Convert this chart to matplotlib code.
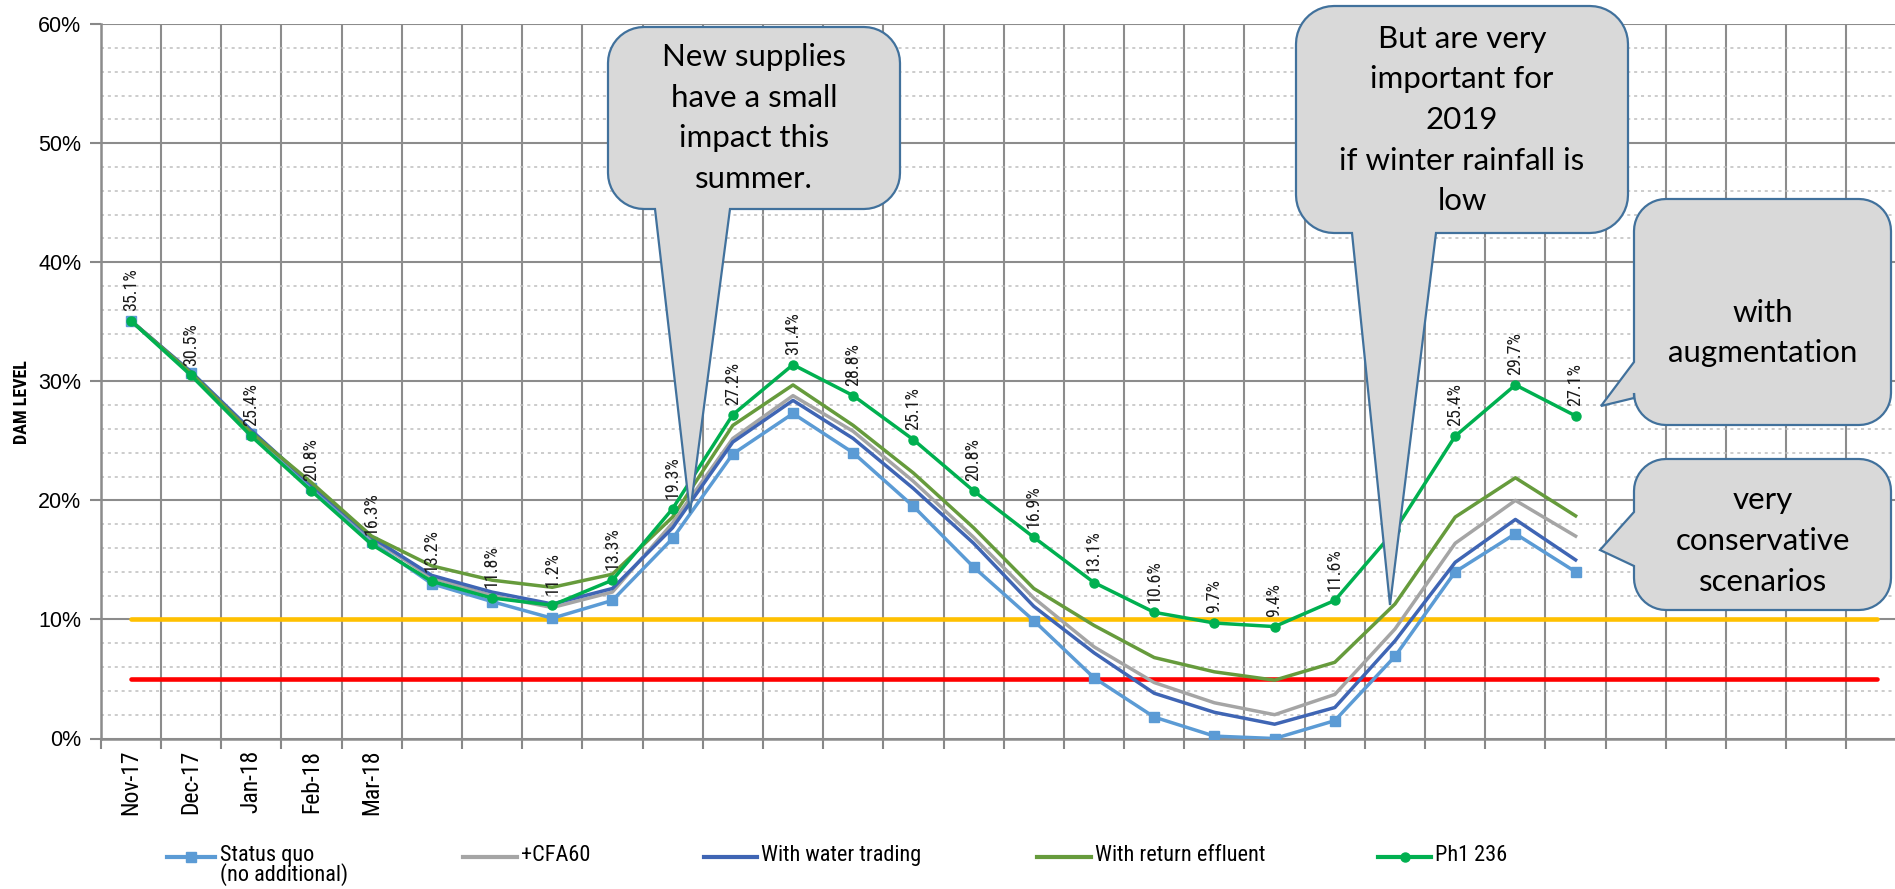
import matplotlib.pyplot as plt
import numpy as np
from matplotlib.patches import Polygon
from matplotlib.lines import Line2D

# categories (30 months, only the first five have visible labels)
months = ['Nov-17', 'Dec-17', 'Jan-18', 'Feb-18', 'Mar-18', 'Apr-18', 'May-18', 'Jun-18',
          'Jul-18', 'Aug-18', 'Sep-18', 'Oct-18', 'Nov-18', 'Dec-18', 'Jan-19', 'Feb-19',
          'Mar-19', 'Apr-19', 'May-19', 'Jun-19', 'Jul-19', 'Aug-19', 'Sep-19', 'Oct-19',
          'Nov-19', 'Dec-19', 'Jan-20', 'Feb-20', 'Mar-20', 'Apr-20']
visible_labels = 5

# dam level (%) per scenario
status_quo = [35.1, 30.7, 25.6, 21.0, 16.5, 13.0, 11.5, 10.1, 11.6, 16.8, 23.9, 27.3, 24.0,
              19.5, 14.4, 9.9, 5.1, 1.8, 0.2, 0.0, 1.5, 6.9, 14.0, 17.2, 14.0]
cfa60 = [35.1, 30.7, 25.8, 21.3, 16.8, 13.5, 12.0, 11.0, 12.3, 18.1, 25.2, 28.8, 25.8,
         21.6, 16.9, 11.8, 7.7, 4.7, 3.0, 2.0, 3.7, 9.2, 16.4, 20.0, 17.0]
water_trading = [35.1, 30.8, 25.9, 21.3, 16.9, 13.7, 12.3, 11.3, 12.6, 17.7, 24.9, 28.4, 25.2,
                 21.0, 16.4, 11.1, 7.2, 3.8, 2.2, 1.2, 2.6, 8.2, 14.8, 18.4, 15.0]
return_effluent = [35.1, 30.7, 25.7, 21.5, 17.0, 14.5, 13.3, 12.7, 13.8, 18.6, 26.3, 29.7, 26.3,
                   22.3, 17.7, 12.6, 9.5, 6.8, 5.6, 4.9, 6.4, 11.3, 18.6, 21.9, 18.7]
ph1_236 = [35.1, 30.5, 25.4, 20.8, 16.3, 13.2, 11.8, 11.2, 13.3, 19.3, 27.2, 31.4, 28.8,
           25.1, 20.8, 16.9, 13.1, 10.6, 9.7, 9.4, 11.6, 17.5, 25.4, 29.7, 27.1]
yellow_level = 10
red_level = 5

series_names = ['Status quo\n(no additional)', '+CFA60', 'With water trading',
                'With return effluent', 'Ph1 236']
series_colors = ['#5B9BD5', '#A5A5A5', '#3F65B4', '#669B3C', '#00B050']
series_markers = ['s', None, None, None, 'o']

notes = ['New supplies\nhave a small\nimpact this\nsummer.',
         'But are very\nimportant for\n2019\nif winter rainfall is\nlow',
         'with\naugmentation',
         'very\nconservative\nscenarios']

NARROW = ['Liberation Sans Narrow', 'DejaVu Sans Condensed', 'Roboto Condensed', 'DejaVu Sans']
W, H = 1895, 889
fig = plt.figure(figsize=(W / 100, H / 100), dpi=100)

def fx(x):
    return x / W

def fy(y):
    return 1 - y / H

# plot area in pixels (top-left origin); right side is cut off by the picture
left, top, bottom = 100.7, 24.2, 738.5
cat_w = 60.2
ax = fig.add_axes([fx(left), fy(bottom), len(months) * cat_w / W, (bottom - top) / H])

x = np.arange(len(months))
all_series = [status_quo, cfa60, water_trading, return_effluent, ph1_236]

ax.plot([x[0], x[-1]], [yellow_level, yellow_level], color='#FFC000', lw=3.3,
        solid_capstyle='round', zorder=3)
ax.plot([x[0], x[-1]], [red_level, red_level], color='#FF0000', lw=3.3,
        solid_capstyle='round', zorder=3)

for vals, col, mk in zip(all_series, series_colors, series_markers):
    n = len(vals)
    ax.plot(x[:n], vals, color=col, lw=2.5, marker=mk, markersize=7 if mk == 's' else 6.5,
            zorder=4)

for i, v in enumerate(ph1_236):
    ax.annotate(f'{v:.1f}%', (x[i], v), xytext=(0, 7), textcoords='offset points',
                rotation=90, ha='center', va='bottom', fontsize=13, family=NARROW,
                fontstretch='condensed', color='#1a1a1a', zorder=5)

ax.set_xlim(-0.5, len(months) - 0.5)
ax.set_ylim(0, 60)

ax.set_xticks(np.arange(-0.5, len(months), 1))
ax.set_xticklabels([])
ax.set_xticks(x, minor=True)
ax.set_xticklabels([m if i < visible_labels else '' for i, m in enumerate(months)],
                   minor=True, rotation=90, fontsize=17, family=NARROW, fontstretch='condensed')
ax.tick_params(axis='x', which='major', length=7, width=1.5, color='#888888', direction='out')
ax.tick_params(axis='x', which='minor', length=0, pad=8)

ax.set_yticks(np.arange(0, 61, 10))
ax.set_yticklabels([f'{v}%' for v in range(0, 61, 10)], fontsize=15.5, family='Liberation Sans')
ax.set_yticks(np.arange(0, 61, 2), minor=True)
ax.tick_params(axis='y', which='major', length=8, width=1.5, color='#888888', pad=6)
ax.tick_params(axis='y', which='minor', length=0)

ax.grid(True, axis='both', which='major', color='#8C8C8C', lw=1.5)
ax.grid(True, axis='y', which='minor', color='#BFBFBF', lw=1.1, ls=(0, (2, 2.5)))
ax.set_axisbelow(True)
for s in ['top', 'right']:
    ax.spines[s].set_visible(False)
for s in ['left', 'bottom']:
    ax.spines[s].set_color('#8C8C8C')
    ax.spines[s].set_linewidth(1.8)

fig.text(fx(22), fy(402), 'DAM LEVEL', rotation=90, ha='center', va='center',
         fontsize=13, fontweight='bold', family=NARROW, fontstretch='condensed')

# legend drawn by hand to follow the uneven spacing
leg_y = 857
leg_items = [(167, 215, 220), (463, 517, 521), (704, 757, 761), (1037, 1091, 1095),
             (1378, 1431, 1435)]
for (x0, x1, tx), name, col, mk in zip(leg_items, series_names, series_colors, series_markers):
    fig.add_artist(Line2D([fx(x0), fx(x1)], [fy(leg_y), fy(leg_y)], color=col, lw=3,
                          transform=fig.transFigure))
    if mk:
        fig.add_artist(Line2D([fx((x0 + x1) / 2)], [fy(leg_y)], color=col, marker=mk,
                              markersize=7 if mk == 's' else 6.5, transform=fig.transFigure))
    fig.text(fx(tx), fy(leg_y - 12), name, ha='left', va='top', fontsize=16,
             family=NARROW, fontstretch='condensed', linespacing=0.85)


def callout(x0, y0, x1, y1, r, side, base0, base1, tip):
    pts = []
    def arc(cx, cy, a0, a1):
        for a in np.linspace(np.radians(a0), np.radians(a1), 12):
            pts.append((cx + r * np.cos(a), cy + r * np.sin(a)))
    arc(x1 - r, y0 + r, -90, 0)
    arc(x1 - r, y1 - r, 0, 90)
    if side == 'bottom':
        pts += [(base1, y1), tip, (base0, y1)]
    arc(x0 + r, y1 - r, 90, 180)
    if side == 'left':
        pts += [(x0, base1), tip, (x0, base0)]
    arc(x0 + r, y0 + r, 180, 270)
    poly = Polygon([(fx(a), fy(b)) for a, b in pts], closed=True, transform=fig.transFigure,
                   facecolor='#D9D9D9', edgecolor='#41719C', lw=1.6, zorder=10)
    fig.add_artist(poly)


callout(608, 27, 900, 209, 36, 'bottom', 655, 730, (690, 513))
callout(1296, 6, 1628, 233, 38, 'bottom', 1352, 1436, (1390, 605))
callout(1634, 199, 1891, 425, 32, 'left', 362, 398, (1601, 406))
callout(1634, 459, 1891, 610, 32, 'left', 512, 566, (1600, 550))

note_pos = [(754, 118), (1462, 120), (1763, 333), (1763, 541)]
for (tx, ty), txt in zip(note_pos, notes):
    fig.text(fx(tx), fy(ty), txt, ha='center', va='center', fontsize=22.5, family='Lato',
             linespacing=1.55, color='black', zorder=11)

fig.savefig('out.png', dpi=100)
